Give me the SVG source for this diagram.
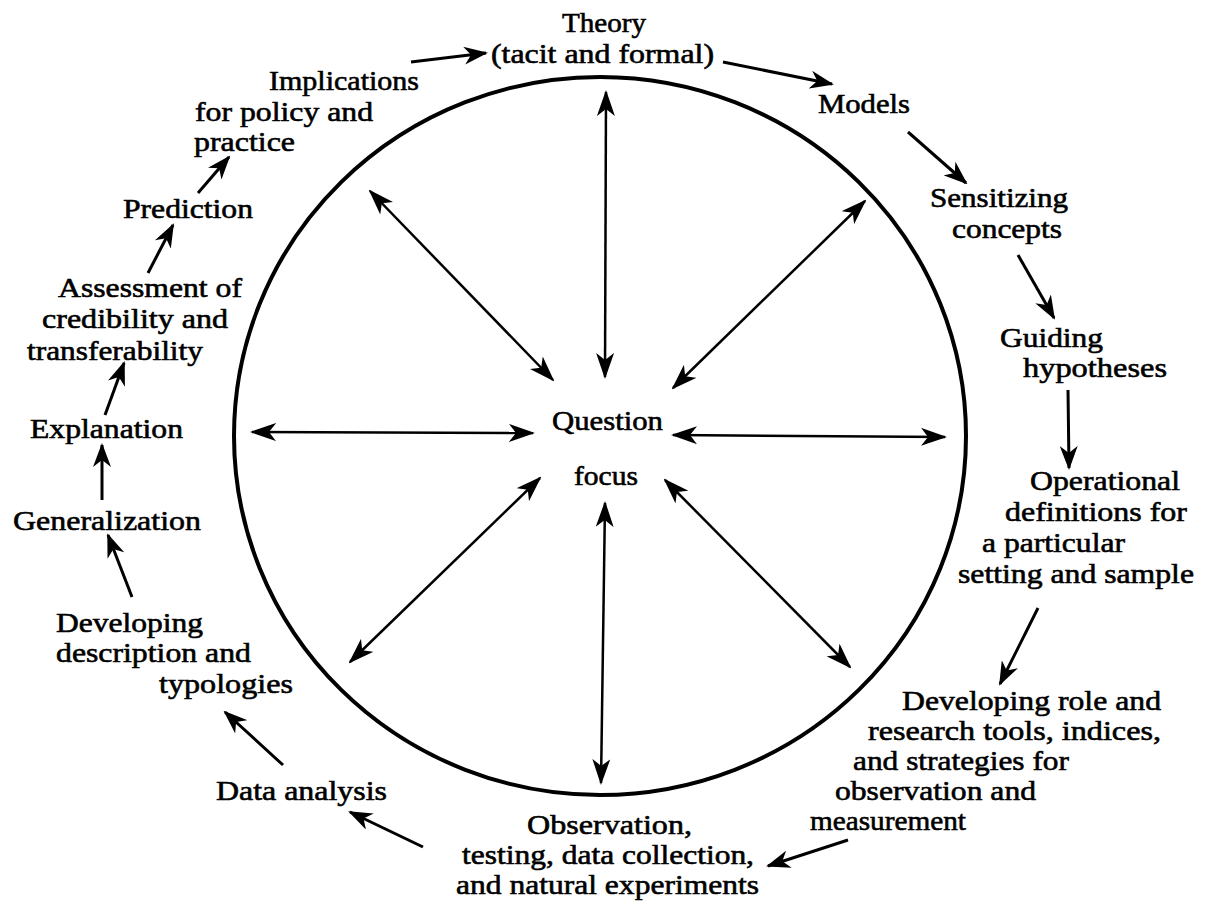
<svg xmlns="http://www.w3.org/2000/svg" width="1210" height="905" viewBox="0 0 1210 905">
<style>
text{font-family:"Liberation Serif","Times New Roman",serif;font-size:28px;fill:#000;stroke:#000;stroke-width:0.6}
.flow{stroke:#000;stroke-width:3;fill:none;marker-end:url(#ah)}
.spoke{stroke:#000;stroke-width:2.5;fill:none;marker-start:url(#ah2);marker-end:url(#ah2)}
</style>
<defs>
<marker id="ah" viewBox="0 0 24 18" refX="22" refY="9" markerWidth="24" markerHeight="18" markerUnits="userSpaceOnUse" orient="auto">
<path d="M0,0 L24,9 L0,18 L7,9 z" fill="#000"/>
</marker>
<marker id="ah2" viewBox="0 0 26 18" refX="24" refY="9" markerWidth="26" markerHeight="18" markerUnits="userSpaceOnUse" orient="auto-start-reverse">
<path d="M0,0 L26,9 L0,18 L7,9 z" fill="#000"/>
</marker>
</defs>
<rect width="1210" height="905" fill="#fff"/>
<g id="cycle-circle">
<ellipse cx="600" cy="436" rx="366" ry="359" fill="none" stroke="#000" stroke-width="4"/>
</g>
<g id="center"><text x="552" y="430" textLength="111" lengthAdjust="spacingAndGlyphs">Question</text><text x="574" y="485" textLength="64" lengthAdjust="spacingAndGlyphs">focus</text></g>
<g id="theory"><text x="562" y="32" textLength="84" lengthAdjust="spacingAndGlyphs">Theory</text><text x="491" y="63" textLength="223" lengthAdjust="spacingAndGlyphs">(tacit and formal)</text></g>
<g id="models"><text x="818" y="113" textLength="92" lengthAdjust="spacingAndGlyphs">Models</text></g>
<g id="sensitizing"><text x="930" y="207" textLength="138" lengthAdjust="spacingAndGlyphs">Sensitizing</text><text x="952" y="238" textLength="110" lengthAdjust="spacingAndGlyphs">concepts</text></g>
<g id="guiding"><text x="1000" y="347" textLength="103" lengthAdjust="spacingAndGlyphs">Guiding</text><text x="1023" y="377" textLength="144" lengthAdjust="spacingAndGlyphs">hypotheses</text></g>
<g id="operational"><text x="1030" y="490" textLength="150" lengthAdjust="spacingAndGlyphs">Operational</text><text x="1005" y="521" textLength="182" lengthAdjust="spacingAndGlyphs">definitions for</text><text x="982" y="552" textLength="143" lengthAdjust="spacingAndGlyphs">a particular</text><text x="958" y="583" textLength="236" lengthAdjust="spacingAndGlyphs">setting and sample</text></g>
<g id="developing-role"><text x="902" y="710" textLength="259" lengthAdjust="spacingAndGlyphs">Developing role and</text><text x="868" y="740" textLength="293" lengthAdjust="spacingAndGlyphs">research tools, indices,</text><text x="853" y="770" textLength="216" lengthAdjust="spacingAndGlyphs">and strategies for</text><text x="835" y="800" textLength="201" lengthAdjust="spacingAndGlyphs">observation and</text><text x="810" y="830" textLength="156" lengthAdjust="spacingAndGlyphs">measurement</text></g>
<g id="observation"><text x="527" y="834" textLength="165" lengthAdjust="spacingAndGlyphs">Observation,</text><text x="462" y="864" textLength="292" lengthAdjust="spacingAndGlyphs">testing, data collection,</text><text x="456" y="894" textLength="303" lengthAdjust="spacingAndGlyphs">and natural experiments</text></g>
<g id="data-analysis"><text x="216" y="800" textLength="171" lengthAdjust="spacingAndGlyphs">Data analysis</text></g>
<g id="developing-description"><text x="56" y="632" textLength="147" lengthAdjust="spacingAndGlyphs">Developing</text><text x="56" y="662" textLength="195" lengthAdjust="spacingAndGlyphs">description and</text><text x="159" y="693" textLength="134" lengthAdjust="spacingAndGlyphs">typologies</text></g>
<g id="generalization"><text x="13" y="530" textLength="188" lengthAdjust="spacingAndGlyphs">Generalization</text></g>
<g id="explanation"><text x="30" y="438" textLength="153" lengthAdjust="spacingAndGlyphs">Explanation</text></g>
<g id="assessment"><text x="58" y="297" textLength="184" lengthAdjust="spacingAndGlyphs">Assessment of</text><text x="42" y="328" textLength="186" lengthAdjust="spacingAndGlyphs">credibility and</text><text x="27" y="360" textLength="176" lengthAdjust="spacingAndGlyphs">transferability</text></g>
<g id="prediction"><text x="123" y="218" textLength="130" lengthAdjust="spacingAndGlyphs">Prediction</text></g>
<g id="implications"><text x="269" y="90" textLength="150" lengthAdjust="spacingAndGlyphs">Implications</text><text x="195" y="121" textLength="178" lengthAdjust="spacingAndGlyphs">for policy and</text><text x="194" y="151" textLength="101" lengthAdjust="spacingAndGlyphs">practice</text></g>
<g id="connectors">
<line class="flow" x1="411" y1="62" x2="486" y2="53"/>
<line class="flow" x1="723" y1="62" x2="832" y2="84"/>
<line class="flow" x1="908" y1="132" x2="966" y2="183"/>
<line class="flow" x1="1018" y1="255" x2="1054" y2="318"/>
<line class="flow" x1="1068" y1="390" x2="1069" y2="468"/>
<line class="flow" x1="1038" y1="608" x2="1000" y2="684"/>
<line class="flow" x1="848" y1="840" x2="768" y2="866"/>
<line class="flow" x1="423" y1="847" x2="350" y2="812"/>
<line class="flow" x1="283" y1="765" x2="225" y2="712"/>
<line class="flow" x1="132" y1="597" x2="108" y2="535"/>
<line class="flow" x1="102" y1="500" x2="102" y2="445"/>
<line class="flow" x1="105" y1="415" x2="124" y2="363"/>
<line class="flow" x1="148" y1="273" x2="173" y2="225"/>
<line class="flow" x1="198" y1="193" x2="229" y2="157"/>
<line class="spoke" x1="606" y1="92" x2="605" y2="377"/>
<line class="spoke" x1="370" y1="191" x2="553" y2="380"/>
<line class="spoke" x1="865" y1="201" x2="673" y2="388"/>
<line class="spoke" x1="252" y1="432" x2="533" y2="433"/>
<line class="spoke" x1="673" y1="435" x2="945" y2="437"/>
<line class="spoke" x1="350" y1="662" x2="540" y2="478"/>
<line class="spoke" x1="605" y1="503" x2="601" y2="783"/>
<line class="spoke" x1="665" y1="480" x2="850" y2="667"/>
</g>
</svg>
